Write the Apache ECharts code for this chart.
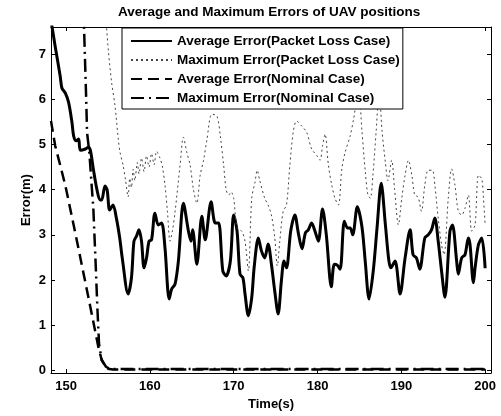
<!DOCTYPE html>
<html>
<head>
<meta charset="utf-8">
<script src="https://cdn.jsdelivr.net/npm/echarts@6/dist/echarts.min.js"></script>
<style>
  html, body { margin: 0; padding: 0; background: #fff; }
  #chart { width: 501px; height: 416px; }
</style>
</head>
<body>
<div id="chart"></div>
<script>
// time ticks and error ticks
var xTicks = [150, 160, 170, 180, 190, 200];
var yTicks = [0, 1, 2, 3, 4, 5, 6, 7];
var legendNames = [
  'Average Error(Packet Loss Case)',
  'Maximum Error(Packet Loss Case)',
  'Average Error(Nominal Case)',
  'Maximum Error(Nominal Case)'
];

// Average Error (Packet Loss Case)
var avgLossT = [148.2, 148.7, 149.3, 149.5, 149.9, 150.3, 150.7, 150.9, 151.2, 151.5, 151.7, 152.3, 152.65, 152.9,
  153.25, 153.65, 154.05, 154.25, 154.64, 154.9, 155.2, 155.6, 156.0, 156.4, 156.7, 157.4, 157.8, 158.1, 158.4,
  158.7, 159.0, 159.3, 159.6, 159.9, 160.2, 160.6, 161.0, 161.4, 161.8, 162.3, 162.6, 163.0, 163.4, 164.0, 164.6,
  164.9, 165.1, 165.6, 166.2, 166.6, 167.3, 167.8, 168.2, 168.7, 169.1, 169.6, 170.0, 170.4, 170.75, 171.1, 171.35,
  171.75, 172.15, 172.45, 172.94, 173.3, 173.7, 174.1, 174.5, 174.9, 175.3, 175.7, 176.0, 176.3, 176.8, 177.3,
  177.7, 178.15, 178.55, 178.9, 179.3, 179.7, 180.1, 180.6, 181.05, 181.65, 182.0, 182.35, 182.7, 183.2, 183.6,
  183.9, 184.2, 184.75, 185.3, 185.7, 186.15, 186.65, 187.1, 187.6, 188.1, 188.5, 188.75, 189.25, 189.85, 190.45,
  191.05, 191.4, 191.8, 192.2, 192.8, 193.2, 193.6, 194.0, 194.4, 194.8, 195.2, 195.8, 196.1, 196.6, 196.8, 197.2,
  197.6, 198.0, 198.2, 198.6, 198.8, 199.2, 199.6, 200.0];
var avgLossV = [7.75, 7.17, 6.51, 6.25, 6.14, 5.93, 5.49, 5.19, 5.08, 5.12, 4.87, 4.90, 4.94, 4.87,
  4.46, 4.03, 3.77, 3.77, 4.08, 3.99, 3.55, 3.66, 3.37, 2.93, 2.49, 1.69, 2.05, 2.86, 2.97,
  3.11, 2.86, 2.27, 2.49, 2.86, 2.89, 3.48, 3.22, 3.26, 2.71, 1.58, 1.80, 1.91, 2.42, 3.70, 3.08,
  2.86, 3.11, 2.35, 3.41, 2.89, 3.73, 3.26, 3.26, 2.20, 2.09, 2.42, 3.44, 3.08, 2.13, 2.05, 1.69,
  1.21, 1.61, 2.30, 2.93, 2.65, 2.49, 2.80, 2.35, 1.75, 1.25, 2.00, 2.42, 2.27, 3.08, 3.44,
  3.05, 2.69, 3.04, 3.11, 3.26, 3.08, 2.86, 3.57, 3.00, 1.85, 2.35, 2.33, 2.24, 3.30, 3.15,
  3.15, 3.00, 3.62, 3.18, 2.40, 1.58, 2.20, 3.15, 4.14, 3.22, 2.45, 2.27, 2.42, 1.69, 2.49,
  3.11, 2.56, 2.49, 2.24, 2.93, 3.00, 3.11, 3.37, 2.86, 2.20, 1.62, 3.08, 3.22, 2.42, 2.13, 2.49,
  2.56, 2.93, 2.78, 1.94, 2.27, 2.78, 2.93, 2.26];

// Maximum Error (Packet Loss Case)
var maxLossT = [154.7, 155.04, 155.44, 155.84, 156.23, 156.43, 156.8, 157.1, 157.4, 157.6, 157.8, 158.0, 158.2,
  158.5, 158.7, 159.0, 159.3, 159.6, 159.9, 160.2, 160.5, 160.8, 161.2, 161.5, 161.8, 162.1, 162.4, 162.7, 163.0,
  163.6, 164.0, 164.4, 164.8, 165.2, 165.6, 166.0, 166.4, 166.8, 167.4, 168.0, 168.4, 168.8, 169.1, 169.4, 169.7,
  170.0, 170.4, 170.95, 171.35, 171.75, 172.15, 172.55, 172.8, 173.1, 173.7, 174.1, 174.5, 174.9, 175.2, 175.5,
  175.9, 176.3, 176.7, 177.1, 177.5, 178.1, 178.7, 179.3, 179.9, 180.3, 180.6, 180.9, 181.3, 181.7, 182.1, 182.5,
  182.9, 183.3, 183.9, 184.3, 184.9, 185.3, 185.7, 186.0, 186.3, 186.6, 187.0, 187.35, 187.7, 188.1, 188.4, 188.85,
  189.2, 189.65, 190.05, 190.45, 190.85, 191.25, 191.6, 192.0, 192.4, 192.8, 193.2, 193.7, 194.0, 194.4, 194.8,
  195.1, 195.6, 196.0, 196.4, 196.8, 197.2, 197.6, 198.0, 198.4, 198.8, 199.2, 199.6, 199.8, 200.0];
var maxLossV = [7.9, 7.09, 6.36, 5.85, 5.12, 4.83, 4.54, 4.2, 3.84, 4.25, 4.05, 4.45, 4.2,
  4.6, 4.35, 4.7, 4.4, 4.75, 4.5, 4.8, 4.55, 4.85, 4.7, 4.5, 4.1, 3.5, 2.86, 3.1, 3.5,
  4.54, 5.16, 4.83, 4.54, 4.0, 3.70, 4.32, 4.65, 5.1, 5.67, 5.63, 5.19, 4.54, 4.0, 3.88, 3.95,
  3.81, 3.15, 3.08, 2.86, 2.20, 3.81, 4.17, 4.43, 4.21, 3.81, 3.66, 3.44, 2.93, 2.31, 2.86,
  3.52, 3.66, 4.54, 5.27, 5.52, 5.41, 5.27, 4.90, 4.76, 4.65, 4.97, 5.23, 4.54, 4.10, 3.8, 3.66,
  4.46, 4.83, 5.19, 5.56, 6.2, 5.3, 4.4, 3.9, 3.81, 4.3, 5.3, 6.2, 5.3, 4.6, 4.2, 4.65,
  4.0, 3.22, 3.81, 4.32, 4.65, 4.32, 3.88, 3.84, 3.52, 4.10, 4.43, 4.43, 4.10, 3.37, 2.78,
  2.56, 3.81, 4.46, 4.10, 3.52, 3.44, 3.59, 3.88, 3.08, 3.22, 4.32, 4.24, 3.81, 3.22];

// Average Error (Nominal Case)
var avgNomT = [148.2, 148.7, 149.3, 149.9, 150.3, 151.3, 152.1, 152.9, 153.45, 153.85, 154.25, 154.85, 155.6, 200.0];
var avgNomV = [5.52, 4.97, 4.54, 4.10, 3.75, 2.86, 2.13, 1.40, 0.89, 0.52, 0.23, 0.04, 0.02, 0.02];

// Maximum Error (Nominal Case)
var maxNomT = [152.0, 152.14, 152.4, 152.5, 152.77, 153.05, 153.25, 153.53, 153.73, 153.93, 154.25, 154.76, 155.24, 200.0];
var maxNomV = [8.0, 7.6, 6.0, 5.27, 4.83, 4.10, 3.59, 2.35, 1.40, 0.59, 0.23, 0.08, 0.03, 0.03];

function pairs(t, v) {
  return t.map(function (x, i) { return [x, v[i]]; });
}

var font = 'Liberation Sans, Arial, sans-serif';
var chart = echarts.init(document.getElementById('chart'));

var xBase = {
  type: 'value', min: 148.2, max: 200.7,
  axisLine: { show: true, onZero: false, lineStyle: { color: '#000', width: 1 } },
  axisTick: { show: true, inside: true, length: 4, customValues: xTicks, lineStyle: { color: '#000' } },
  splitLine: { show: false }
};
var yBase = {
  type: 'value', min: -0.06, max: 7.6,
  axisLine: { show: true, onZero: false, lineStyle: { color: '#000', width: 1 } },
  axisTick: { show: true, inside: true, length: 4, customValues: yTicks, lineStyle: { color: '#000' } },
  splitLine: { show: false }
};

chart.setOption({
  animation: false,
  backgroundColor: '#fff',
  title: {
    text: 'Average and Maximum Errors of UAV positions',
    left: 118, top: 5, padding: 0,
    textStyle: { color: '#000', fontFamily: font, fontWeight: 'bold', fontSize: 13.5 }
  },
  legend: {
    orient: 'vertical',
    left: 122, top: 28,
    padding: [6, 3, 4, 8],
    itemWidth: 41, itemHeight: 14, itemGap: 5,
    backgroundColor: '#fff',
    borderColor: '#000', borderWidth: 1,
    itemStyle: { opacity: 0 },
    textStyle: { color: '#000', fontFamily: font, fontWeight: 'bold', fontSize: 13.5, lineHeight: 14 },
    data: legendNames
  },
  grid: { left: 51, right: 10, top: 27, bottom: 40 },
  xAxis: [
    Object.assign({}, xBase, {
      position: 'bottom',
      name: 'Time(s)', nameLocation: 'middle', nameGap: 21,
      nameTextStyle: { color: '#000', fontFamily: font, fontWeight: 'bold', fontSize: 13 },
      axisLabel: { customValues: xTicks, margin: 7, color: '#000', fontFamily: font, fontWeight: 'bold', fontSize: 13 }
    }),
    Object.assign({}, xBase, { position: 'top', axisLabel: { show: false } })
  ],
  yAxis: [
    Object.assign({}, yBase, {
      position: 'left',
      name: 'Error(m)', nameLocation: 'middle', nameGap: 18, nameMoveOverlap: false,
      nameTextStyle: { color: '#000', fontFamily: font, fontWeight: 'bold', fontSize: 13 },
      axisLabel: { customValues: yTicks, margin: 5, color: '#000', fontFamily: font, fontWeight: 'bold', fontSize: 13 }
    }),
    Object.assign({}, yBase, { position: 'right', axisLabel: { show: false } })
  ],
  series: [
    {
      name: legendNames[0], type: 'line', symbol: 'none', smooth: 0.3,
      lineStyle: { color: '#000', width: 3, type: 'solid' },
      itemStyle: { color: '#000' },
      data: pairs(avgLossT, avgLossV)
    },
    {
      name: legendNames[1], type: 'line', symbol: 'none', smooth: 0.3,
      lineStyle: { color: '#444', width: 1, type: [2, 3] },
      itemStyle: { color: '#444' },
      data: pairs(maxLossT, maxLossV)
    },
    {
      name: legendNames[2], type: 'line', symbol: 'none',
      lineStyle: { color: '#000', width: 2.5, type: [11, 6] },
      itemStyle: { color: '#000' },
      data: pairs(avgNomT, avgNomV)
    },
    {
      name: legendNames[3], type: 'line', symbol: 'none',
      lineStyle: { color: '#000', width: 2.5, type: [13, 5, 2, 5] },
      itemStyle: { color: '#000' },
      data: pairs(maxNomT, maxNomV)
    }
  ]
});
</script>
</body>
</html>
